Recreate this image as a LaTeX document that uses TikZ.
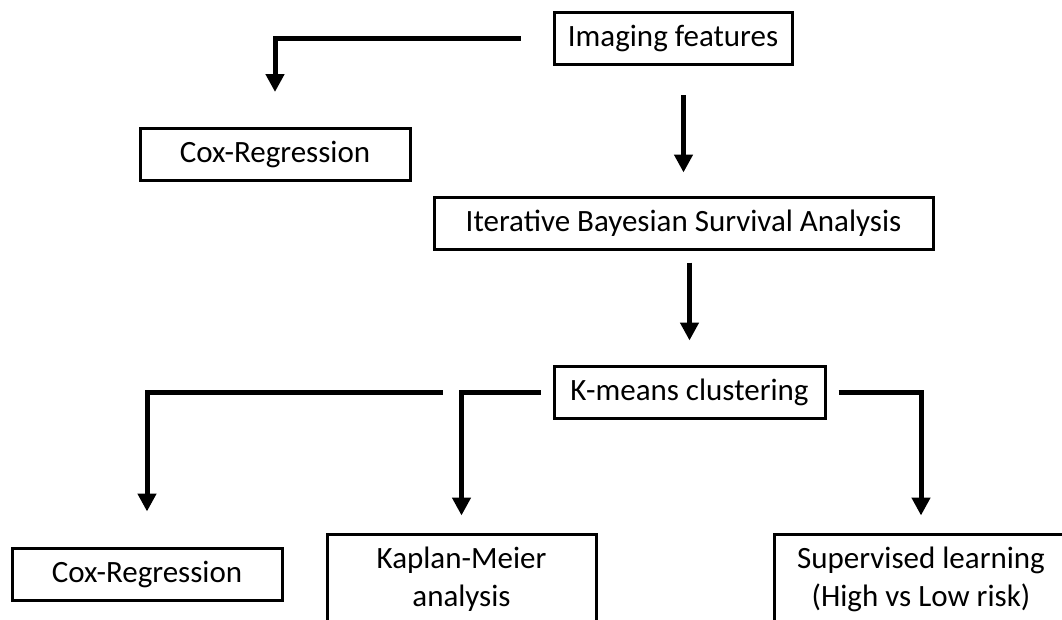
\documentclass[tikz,border=0pt]{standalone}
\usepackage{fontspec}
\setmainfont{Carlito}
\usetikzlibrary{arrows.meta}

\begin{document}
\begin{tikzpicture}[
    x=1pt, y=-1pt,
    font=\fontsize{31}{38}\selectfont,
    text centered,
	block/.style={
	  rectangle,
	  line width=3pt,
	  draw=black,
	  inner sep=0pt,
	  minimum height=52pt,
	  align=center
	},
 	line/.style={draw, line width=5pt, -{Triangle[width=18pt,length=18pt]}}
	]
	\clip (0, 0) rectangle (1062, 619);
	\node [block, minimum width=238pt] at (673, 38.5) (imaging) {Imaging features};
	\node [block, minimum width=270pt] at (275, 154.5) (coxtop) {Cox-Regression};
	\node [block, minimum width=499pt] at (683.5, 223) (ibsa) {Iterative Bayesian Survival Analysis};
	\node [block, minimum width=271pt] at (689.5, 392) (kmeans) {K-means clustering};
	\node [block, minimum width=270pt] at (147, 574) (coxbot) {Cox-Regression};
	\node [block, minimum width=269pt, minimum height=90pt] at (461.5, 579) (km) {Kaplan-Meier\\analysis};
	\node [block, minimum width=294pt, minimum height=90pt] at (921, 579) (sup) {Supervised learning\\(High vs Low risk)};
	\path[line, shorten <=32pt, shorten >=35pt] (imaging.west) -| (coxtop.north);
	\path[line, shorten <=29pt, shorten >=23pt] (imaging.south -| ibsa.north) -- (ibsa.north);
	\path[line, shorten <=12pt, shorten >=24pt] (ibsa.south -| kmeans.north) -- (kmeans.north);
	\path[line, shorten <=110pt, shorten >=35pt] (kmeans.west) -| (coxbot.north);
	\path[line, shorten <=12pt, shorten >=17pt] (kmeans.west) -| (km.north);
	\path[line, shorten <=12pt, shorten >=17pt] (kmeans.east) -| (sup.north);
  \end{tikzpicture}
\end{document}
